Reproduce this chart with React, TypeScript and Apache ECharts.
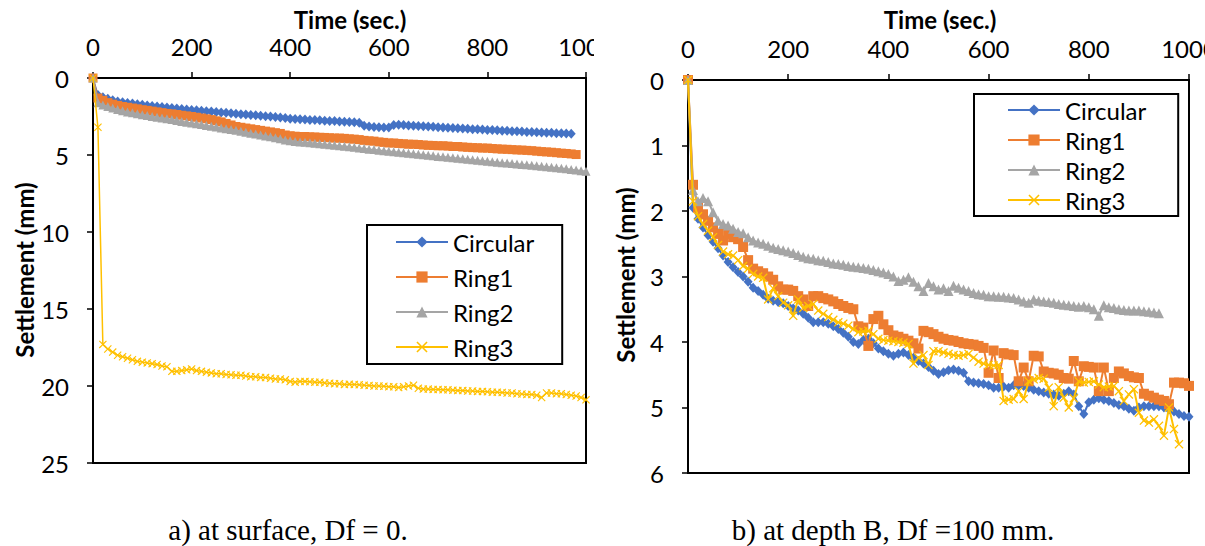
import React, { useEffect, useRef } from "react";
import * as echarts from "echarts";

// sampling times (sec.)
const TIME: number[] = Array.from({ length: 101 }, (_, i) => i * 10);
const NAMES = ["Circular", "Ring1", "Ring2", "Ring3"];
const COLORS = ["#4472C4", "#ED7D31", "#A5A5A5", "#FFC000"];
const X_TICKS = [0, 200, 400, 600, 800, 1000];

// a) at surface, Df = 0  (settlement, mm)
const A_CIRCULAR = [0,1.1,1.25,1.35,1.45,1.52,1.57,1.62,1.66,1.7,
1.74,1.78,1.82,1.85,1.88,1.92,1.95,1.98,2.02,2.05,
2.08,2.1,2.13,2.16,2.18,2.21,2.24,2.26,2.29,2.32,
2.35,2.37,2.4,2.42,2.45,2.48,2.5,2.53,2.56,2.6,
2.65,2.66,2.68,2.7,2.72,2.73,2.75,2.77,2.79,2.8,
2.82,2.84,2.85,2.87,2.9,3.1,3.15,3.18,3.2,3.22,
3.22,3.05,3.03,3.05,3.08,3.1,3.12,3.14,3.15,3.17,
3.2,3.21,3.23,3.25,3.26,3.28,3.3,3.32,3.33,3.35,
3.37,3.38,3.4,3.42,3.43,3.45,3.46,3.48,3.5,3.51,
3.52,3.54,3.55,3.56,3.58,3.59,3.6,3.62];
const A_RING1 = [0,1.3,1.45,1.6,1.7,1.78,1.85,1.9,1.95,2.0,
2.06,2.1,2.15,2.2,2.25,2.3,2.33,2.37,2.42,2.46,
2.5,2.55,2.6,2.65,2.7,2.78,2.85,2.95,3.05,3.15,
3.2,3.25,3.3,3.35,3.4,3.45,3.5,3.55,3.6,3.7,
3.75,3.78,3.8,3.8,3.82,3.83,3.85,3.86,3.88,3.9,
3.9,3.92,3.95,3.97,4.0,4.05,4.08,4.1,4.15,4.18,
4.22,4.22,4.25,4.27,4.3,4.3,4.32,4.35,4.37,4.38,
4.4,4.4,4.42,4.45,4.45,4.48,4.5,4.52,4.53,4.55,
4.55,4.58,4.6,4.62,4.63,4.65,4.67,4.68,4.7,4.72,
4.75,4.78,4.8,4.82,4.85,4.88,4.9,4.93,4.97];
const A_RING2 = [0,1.6,1.75,1.85,1.95,2.05,2.12,2.2,2.26,2.32,
2.38,2.44,2.5,2.55,2.6,2.65,2.7,2.76,2.82,2.87,
2.92,2.97,3.02,3.08,3.13,3.18,3.24,3.3,3.35,3.4,
3.46,3.52,3.58,3.64,3.7,3.76,3.82,3.88,3.95,4.02,
4.08,4.12,4.15,4.18,4.21,4.24,4.27,4.3,4.33,4.37,
4.4,4.43,4.47,4.5,4.54,4.58,4.62,4.65,4.69,4.72,
4.76,4.79,4.82,4.85,4.88,4.92,4.95,4.98,5.02,5.05,
5.09,5.12,5.15,5.18,5.21,5.25,5.28,5.31,5.34,5.37,
5.41,5.44,5.47,5.5,5.52,5.55,5.58,5.61,5.64,5.67,
5.7,5.73,5.76,5.79,5.82,5.86,5.9,5.94,5.98,6.02,
6.06];
const A_RING3 = [0,3.2,17.3,17.6,17.8,18.0,18.1,18.2,18.3,18.4,
18.45,18.5,18.55,18.6,18.7,18.75,19.05,19.05,19.0,18.95,
18.9,19.0,19.05,19.1,19.15,19.2,19.2,19.25,19.27,19.3,
19.3,19.35,19.4,19.4,19.45,19.45,19.5,19.55,19.55,19.6,
19.7,19.75,19.7,19.7,19.72,19.75,19.75,19.8,19.82,19.85,
19.85,19.9,19.88,19.9,19.92,19.95,19.97,20.0,20.0,20.02,
20.05,20.05,20.1,20.05,20.0,19.95,20.15,20.2,20.2,20.22,
20.22,20.25,20.25,20.27,20.3,20.3,20.32,20.32,20.35,20.35,
20.37,20.4,20.4,20.42,20.45,20.45,20.5,20.52,20.55,20.55,
20.6,20.75,20.45,20.45,20.5,20.5,20.55,20.6,20.65,20.75,
20.9];

// b) at depth B, Df = 100 mm  (settlement, mm)
const B_CIRCULAR = [0,1.95,2.12,2.25,2.37,2.47,2.57,2.68,2.78,2.86,
2.93,3.0,3.08,3.17,3.22,3.28,3.34,3.37,3.39,3.41,
3.45,3.49,3.52,3.57,3.63,3.7,3.7,3.7,3.72,3.76,
3.8,3.86,3.92,4.0,4.03,3.97,3.95,4.02,4.1,4.14,
4.18,4.21,4.18,4.16,4.2,4.24,4.29,4.33,4.38,4.44,
4.49,4.46,4.43,4.42,4.44,4.47,4.6,4.62,4.63,4.64,
4.66,4.7,4.7,4.68,4.7,4.66,4.66,4.67,4.7,4.73,
4.75,4.77,4.79,4.8,4.82,4.79,4.75,4.8,4.98,5.1,
4.92,4.88,4.86,4.88,4.9,4.93,4.96,4.98,5.02,5.05,
5.0,4.98,4.98,4.98,4.98,5.0,5.03,5.06,5.1,5.13,
5.14];
const B_RING1 = [0,1.6,1.95,2.05,2.15,2.25,2.35,2.45,2.35,2.4,
2.43,2.55,2.75,2.88,2.92,2.95,3.0,3.05,3.15,3.2,
3.2,3.22,3.3,3.35,3.45,3.3,3.3,3.33,3.35,3.38,
3.42,3.45,3.48,3.5,3.76,3.78,4.06,3.65,3.6,3.73,
3.82,3.9,3.92,3.95,3.98,4.02,4.1,3.83,3.85,3.88,
3.92,3.95,3.97,3.98,4.0,4.02,4.03,4.04,4.06,4.09,
4.47,4.13,4.55,4.17,4.19,4.2,4.6,4.39,4.6,4.21,
4.22,4.45,4.47,4.48,4.5,4.55,4.56,4.29,4.6,4.37,
4.38,4.39,4.75,4.39,4.75,4.55,4.45,4.48,4.52,4.54,
4.55,4.79,4.82,4.85,4.88,4.9,4.95,4.62,4.62,4.63,
4.67];
const B_RING2 = [0,1.68,1.85,1.8,1.85,2.02,2.15,2.2,2.22,2.27,
2.32,2.34,2.4,2.45,2.48,2.5,2.53,2.56,2.58,2.6,
2.62,2.64,2.67,2.7,2.72,2.73,2.75,2.76,2.78,2.8,
2.81,2.82,2.84,2.85,2.86,2.87,2.88,2.9,2.92,2.94,
2.96,3.0,3.07,3.05,3.01,3.08,3.15,3.22,3.1,3.15,
3.2,3.18,3.22,3.14,3.17,3.2,3.22,3.25,3.27,3.28,
3.3,3.3,3.31,3.31,3.32,3.33,3.35,3.38,3.4,3.35,
3.37,3.38,3.39,3.4,3.42,3.43,3.44,3.45,3.46,3.45,
3.47,3.5,3.6,3.44,3.47,3.48,3.5,3.51,3.52,3.52,
3.52,3.53,3.54,3.55,3.56];
const B_RING3 = [0,1.85,2.08,2.2,2.3,2.4,2.52,2.62,2.66,2.68,
2.75,2.84,2.88,2.96,3.0,3.02,3.35,3.18,3.3,3.4,
3.44,3.6,3.35,3.48,3.45,3.42,3.52,3.57,3.62,3.66,
3.7,3.72,3.75,3.8,3.85,3.84,3.83,3.88,3.95,3.97,
3.98,3.99,4.0,4.01,4.03,4.33,4.24,4.2,4.35,4.14,
4.14,4.16,4.18,4.2,4.21,4.2,4.18,4.24,4.3,4.33,
4.35,4.36,4.35,4.9,4.88,4.87,4.75,4.87,4.6,4.57,
4.55,4.56,4.7,4.98,4.69,4.85,5.0,4.86,4.6,4.62,
4.61,4.6,4.65,4.69,4.68,4.67,4.75,4.9,4.8,4.72,
5.08,5.2,5.23,5.18,5.28,5.43,5.0,5.33,5.56];

const X_SYMBOL = "path://M1,0 L5,4 L9,0 L10,1 L6,5 L10,9 L9,10 L5,6 L1,10 L0,9 L4,5 L0,1 Z";
const SYMBOLS = ["diamond", "rect", "triangle", X_SYMBOL];

type Cfg = {
  series: number[][];
  yMax: number;
  yInterval: number;
  grid: { left: number; top: number; width: number; height: number };
  symbolSizes: (number | number[])[];
  lineWidth: number;
  legend: { left: number; top: number; padding: number[]; itemGap: number };
  titleX: number;
  yNameX: number;
  yNameY: number;
  caption: string;
  captionX: number;
};

function buildOption(c: Cfg) {
  return {
    animation: false,
    textStyle: { fontFamily: "Lato" },
    grid: {
      ...c.grid,
      show: true,
      borderColor: "#000",
      borderWidth: 2,
      backgroundColor: "transparent",
      containLabel: false,
      outerBoundsMode: "none",
    },
    xAxis: {
      type: "value",
      position: "top",
      min: 0,
      max: 1000,
      interval: 200,
      axisLine: { show: true, onZero: false, lineStyle: { color: "#000", width: 2 } },
      axisTick: { show: true, length: 6, lineStyle: { color: "#000", width: 1.5 } },
      axisLabel: {
        color: "#000", fontSize: 24, fontFamily: "Lato", margin: 20,
        hideOverlap: false,
        formatter: (v: number) => (X_TICKS.includes(v) ? String(v) : ""),
      },
      splitLine: { show: false },
    },
    yAxis: {
      type: "value",
      inverse: true,
      min: 0,
      max: c.yMax,
      interval: c.yInterval,
      axisLine: { show: true, onZero: false, lineStyle: { color: "#000", width: 2 } },
      axisTick: { show: true, length: 6, lineStyle: { color: "#000", width: 1.5 } },
      axisLabel: { color: "#000", fontSize: 24, fontFamily: "Lato", margin: 24 },
      splitLine: { show: false },
    },
    legend: {
      orient: "vertical",
      left: c.legend.left,
      top: c.legend.top,
      padding: c.legend.padding,
      itemGap: c.legend.itemGap,
      itemWidth: 52,
      itemHeight: 14,
      backgroundColor: "#fff",
      borderColor: "#000",
      borderWidth: 2,
      textStyle: { fontSize: 24, color: "#000", fontFamily: "Lato", lineHeight: 24 },
      data: NAMES,
    },
    graphic: [
      {
        type: "text",
        x: c.titleX,
        y: 19,
        style: { text: "Time (sec.)", align: "center", verticalAlign: "middle", fill: "#000", font: 'bold 24px "Lato"' },
      },
      {
        type: "text",
        x: c.yNameX,
        y: c.yNameY,
        rotation: Math.PI / 2,
        style: { text: "Settlement (mm)", align: "center", verticalAlign: "middle", fill: "#000", font: 'bold 24px "Lato"' },
      },
      {
        type: "text",
        x: c.captionX,
        y: 530,
        style: { text: c.caption, align: "center", verticalAlign: "middle", fill: "#000", font: '29px "Liberation Serif"' },
      },
    ],
    series: c.series.map((vals, k) => ({
      name: NAMES[k],
      type: "line",
      data: vals.map((v, i) => [TIME[i], v]),
      symbol: SYMBOLS[k],
      symbolSize: c.symbolSizes[k],
      showSymbol: true,
      color: COLORS[k],
      lineStyle: { color: COLORS[k], width: c.lineWidth },
      itemStyle: { color: COLORS[k], borderWidth: 0 },
      z: 2 + k,
    })),
  };
}

const LEFT: Cfg = {
  series: [A_CIRCULAR, A_RING1, A_RING2, A_RING3],
  yMax: 25,
  yInterval: 5,
  grid: { left: 93, top: 78, width: 493, height: 385 },
  symbolSizes: [[9, 10], 9, 9, 8],
  lineWidth: 1.5,
  legend: { left: 367, top: 225, padding: [5, 28, 5, 28], itemGap: 11 },
  titleX: 350,
  yNameX: 24,
  yNameY: 270,
  caption: "a) at surface, Df = 0.",
  captionX: 288,
};

const RIGHT: Cfg = {
  series: [B_CIRCULAR, B_RING1, B_RING2, B_RING3],
  yMax: 6,
  yInterval: 1,
  grid: { left: 88, top: 80, width: 501, height: 393 },
  symbolSizes: [[9, 10], 10, 10, 9],
  lineWidth: 2,
  legend: { left: 374, top: 94, padding: [4, 32, 4, 33], itemGap: 6 },
  titleX: 340,
  yNameX: 25,
  yNameY: 275,
  caption: "b) at depth B, Df =100 mm.",
  captionX: 293,
};

export default function App() {
  const leftRef = useRef<HTMLDivElement>(null);
  const rightRef = useRef<HTMLDivElement>(null);
  useEffect(() => {
    const a = echarts.init(leftRef.current as HTMLDivElement, null, { renderer: "svg" });
    a.setOption(buildOption(LEFT) as any);
    const b = echarts.init(rightRef.current as HTMLDivElement, null, { renderer: "svg" });
    b.setOption(buildOption(RIGHT) as any);
    return () => {
      a.dispose();
      b.dispose();
    };
  }, []);
  return (
    <div style={{ position: "fixed", left: 0, top: 0, width: 1205, height: 546, background: "#fff", overflow: "hidden" }}>
      <div ref={leftRef} style={{ position: "absolute", left: 0, top: 0, width: 594, height: 546, overflow: "hidden" }} />
      <div ref={rightRef} style={{ position: "absolute", left: 600, top: 0, width: 605, height: 546, overflow: "hidden" }} />
    </div>
  );
}
